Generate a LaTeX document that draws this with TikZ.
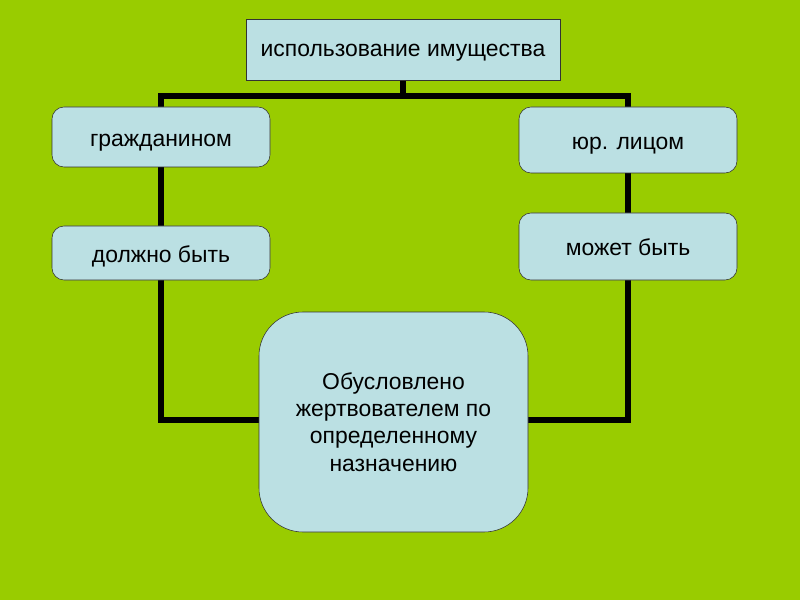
\documentclass[tikz,border=0pt]{standalone}
\usepackage{fontspec}
\setmainfont{Liberation Sans}
\usepackage{tikz}
\usetikzlibrary{calc}
\usetikzlibrary{backgrounds}
\definecolor{slidegreen}{HTML}{99CC00}
\definecolor{boxblue}{HTML}{BBE0E3}

\begin{document}
\begin{tikzpicture}[
	box/.style={draw=black!80, thin, fill=boxblue, minimum width=5.45cm, rounded corners=0.3cm, inner sep=0pt, text height=1.05em, text depth=0.25em},
	conn/.style={line width=4.3pt}
	]
	\fontsize{16.3}{19.4}\selectfont

						\useasboundingbox (0, 0) rectangle (20, 15);

						\node[box, rounded corners=0, minimum width=7.85cm, minimum height=1.525cm, text height=0.9em](top) at (10.075, 13.7625){использование имущества};
						\node[box, minimum height=1.5cm](grazh) at (4.025, 11.575){гражданином};
						\node[box, minimum height=1.35cm](dolzh) at (4.025, 8.675){должно быть};
						\node[box, minimum height=1.65cm](yur) at (15.7, 11.5){юр. лицом};
						\node[box, minimum height=1.675cm](mozh) at (15.7, 8.8375){может быть};
						\node[box, minimum width=6.725cm, minimum height=5.5cm, rounded corners=1.1cm, align=center, text height=, text depth=](naz) at (9.8375, 4.45){Обусловлено\\жертвователем по\\определенному\\назначению};

						\coordinate(bar) at ($(top.south)+(0, -0.4)$);

						\begin{pgfonlayer}{background}
						\fill[slidegreen] (0, 0) rectangle (20, 15);
						\draw[conn] (top.south)--(bar);
						\draw[conn] (grazh.north)|-(bar)-|(yur.north);
						\draw[conn] (grazh)--(dolzh);
						\draw[conn] (yur)--(mozh);
						\draw[conn] (dolzh.south)|-($(naz.west)+(0, 0.05)$);
						\draw[conn] (mozh.south)|-($(naz.east)+(0, 0.05)$);
						\end{pgfonlayer}
					\end{tikzpicture}
\end{document}
